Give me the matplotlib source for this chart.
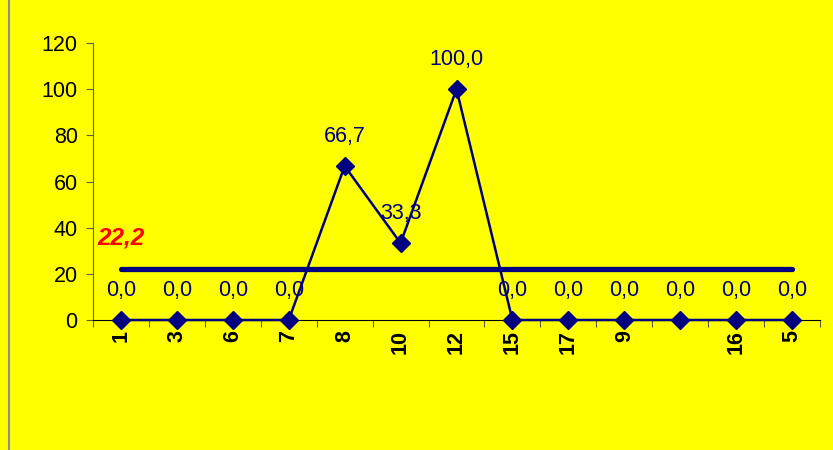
import matplotlib
matplotlib.use("Agg")
import matplotlib.pyplot as plt
from matplotlib.lines import Line2D

categories = ["1", "3", "6", "7", "8", "10", "12", "15", "17", "9", "", "16", "5"]
values = [0.0, 0.0, 0.0, 0.0, 66.7, 33.3, 100.0, 0.0, 0.0, 0.0, 0.0, 0.0, 0.0]
average = 22.2
yticks = [0, 20, 40, 60, 80, 100, 120]

plt.rcParams['font.family'] = ['Liberation Sans', 'DejaVu Sans']
navy = '#000080'

fig = plt.figure(figsize=(8.33, 4.5), dpi=100)
fig.patch.set_facecolor('#FFFF00')
ax = fig.add_axes([93/833, 1-320/450, 727/833, 277/450])
ax.set_facecolor('#FFFF00')

x = list(range(len(categories)))
ax.plot(x, values, color=navy, lw=1.8, marker='D', markersize=9, zorder=3, clip_on=False)
ax.plot([x[0], x[-1]], [average, average], color=navy, lw=3.8, solid_capstyle='round', zorder=2)

for xi, v in zip(x, values):
    ax.annotate(f"{v:.1f}".replace('.', ','), (xi, v), xytext=(0, 21), textcoords='offset points',
                ha='center', va='center', color=navy, fontsize=15.5, zorder=4)
ax.annotate(f"{average:.1f}".replace('.', ','), (x[0], average), xytext=(0, 22), textcoords='offset points',
            ha='center', va='center', color='#FF0000', fontsize=17.5, fontweight='bold', fontstyle='italic')

ax.set_xlim(-0.5, len(categories) - 0.5)
ax.set_ylim(0, 120)
ax.set_yticks(yticks)
ax.set_yticklabels([str(t) for t in yticks], fontsize=15.5)
ax.set_xticks([i - 0.5 for i in range(len(categories) + 1)])
ax.set_xticklabels([])
ax.set_xticks(x, minor=True)
ax.set_xticklabels(categories, minor=True, rotation=90, fontsize=15.5, fontweight='bold', va='top')
ax.tick_params(axis='x', which='minor', length=0, pad=7)
ax.tick_params(axis='x', which='major', length=5, direction='out', color='#606030')
ax.tick_params(axis='y', length=5, direction='out', color='#606030', pad=6)

for s in ['top', 'right']:
    ax.spines[s].set_visible(False)
ax.spines['left'].set_color('#606030')
ax.spines['bottom'].set_color('black')

fig.add_artist(Line2D([8.5/833, 8.5/833], [0, 1], color='#909090', lw=1.5, transform=fig.transFigure))

fig.savefig('out.png', dpi=100, facecolor=fig.get_facecolor())
